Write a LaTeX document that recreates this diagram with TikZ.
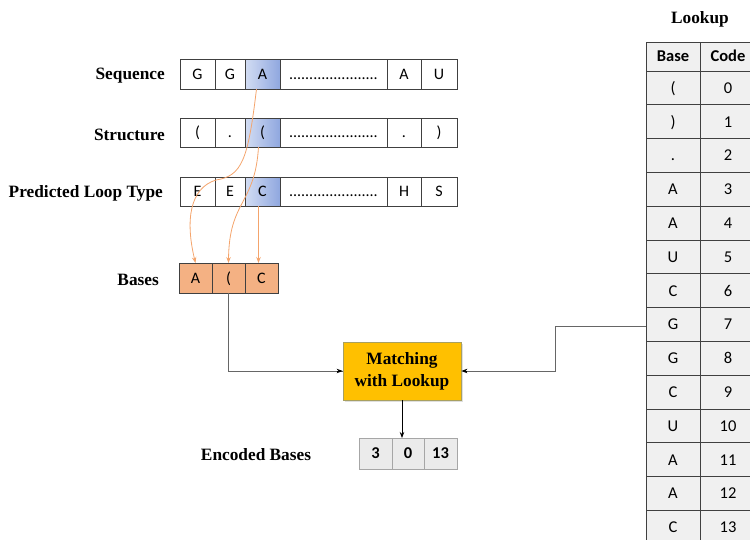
\documentclass[tikz,border=0pt]{standalone}
\usepackage{fontspec}
\setmainfont{Liberation Serif}
\newfontfamily\calfont{Carlito}
\usetikzlibrary{arrows.meta,shadows}
\definecolor{cellborder}{HTML}{404040}
\definecolor{blueL}{HTML}{D3DDF3}
\definecolor{blueR}{HTML}{8FA7DF}
\definecolor{orangefill}{HTML}{F4B183}
\definecolor{orangeline}{HTML}{F4A46C}
\definecolor{gold}{HTML}{FFC000}
\definecolor{goldborder}{HTML}{A8A060}
\definecolor{tablefill}{HTML}{F0F0F0}
\definecolor{encfill}{HTML}{EBEBEB}
\definecolor{encborder}{HTML}{A6A6A6}
\newcommand{\mkcell}[7]{%
  \node[#7, minimum width={(#3-#2)*1pt}, minimum height={(#5-#4)*1pt}] (#1) at ({(#2+#3)/2},{(#4+#5)/2}) {#6};}
\tikzset{
  cellbox/.style={draw=cellborder, line width=0.7pt, fill=white, inner sep=0pt, outer sep=0pt, font=\calfont\fontsize{16}{18}\selectfont, text height=10.3pt, text depth=0pt},
  hibox/.style={cellbox, left color=blueL, right color=blueR},
  basebox/.style={cellbox, fill=orangefill},
  encbox/.style={draw=encborder, line width=0.7pt, fill=encfill, inner sep=0pt, outer sep=0pt, font=\calfont\bfseries\fontsize{16.5}{18}\selectfont, text height=10.6pt, text depth=0pt},
  tabbox/.style={draw=cellborder, line width=0.8pt, fill=tablefill, inner sep=0pt, outer sep=0pt, font=\calfont\fontsize{16.5}{18}\selectfont, text height=10.6pt, text depth=0pt},
  lbl/.style={font=\bfseries\fontsize{17.3}{19}\selectfont, anchor=east, inner sep=0pt},
  orarrow/.style={draw=orangeline, line width=0.8pt, -{Stealth[length=6pt,width=4.5pt]}},
  blkarrow/.style={draw=black!70, line width=0.8pt, -{Stealth[length=6pt,width=4.5pt]}, black},
  plain/.style={draw=black!60, line width=0.8pt}
}
\begin{document}
\begin{tikzpicture}[x=1pt,y=-1pt]
\useasboundingbox (0,0) rectangle (750,539);
% row labels
\node[lbl] (lseq) at (165,75.5) {Sequence};
\node[lbl] (lstr) at (165,134.5) {Structure};
\node[lbl] (lloop) at (163,193.5) {Predicted Loop Type};
\node[lbl] (lbases) at (159,279.5) {Bases};
\node[font=\bfseries\fontsize{17.3}{19}\selectfont] (lenc) at (256,455) {Encoded Bases};
\node[font=\bfseries\fontsize{17.3}{19}\selectfont] (llook) at (700,19.5) {Lookup};
% sequence row
\mkcell{s1}{180}{215}{59}{89}{G}{cellbox}
\mkcell{s2}{215}{245}{59}{89}{G}{cellbox}
\mkcell{s3}{245}{280}{59}{89}{A}{hibox}
\mkcell{s4}{280}{387}{59}{89}{......................}{cellbox}
\mkcell{s5}{387}{421}{59}{89}{A}{cellbox}
\mkcell{s6}{421}{457}{59}{89}{U}{cellbox}
% structure row
\mkcell{t1}{180}{215}{118}{147}{(}{cellbox}
\mkcell{t2}{215}{245}{118}{147}{.}{cellbox}
\mkcell{t3}{245}{280}{118}{147}{(}{hibox}
\mkcell{t4}{280}{387}{118}{147}{......................}{cellbox}
\mkcell{t5}{387}{421}{118}{147}{.}{cellbox}
\mkcell{t6}{421}{457}{118}{147}{)}{cellbox}
% loop row
\mkcell{p1}{180}{215}{177}{206}{E}{cellbox}
\mkcell{p2}{215}{245}{177}{206}{E}{cellbox}
\mkcell{p3}{245}{280}{177}{206}{C}{hibox}
\mkcell{p4}{280}{387}{177}{206}{......................}{cellbox}
\mkcell{p5}{387}{421}{177}{206}{H}{cellbox}
\mkcell{p6}{421}{457}{177}{206}{S}{cellbox}
% bases
\mkcell{b1}{179}{212}{263}{293}{A}{basebox}
\mkcell{b2}{212}{245}{263}{293}{(}{basebox}
\mkcell{b3}{245}{278}{263}{293}{C}{basebox}
% orange connectors
\draw[orarrow] ([xshift=-6pt]s3.south) .. controls (248,160) and (242,176) .. (216,180) .. controls (190,188) and (185,220) .. (b1.north);
\draw[orarrow] ([xshift=-4pt]t3.south) .. controls (255,205) and (229,200) .. (b2.north);
\draw[orarrow] ([xshift=-4pt]p3.south) -- ([xshift=-4pt]p3.south |- b3.north);
% matching box
\node[draw=goldborder, line width=0.8pt, fill=gold, drop shadow={shadow xshift=2pt, shadow yshift=-2pt, fill=black!25}, minimum width=118pt, minimum height=58pt, align=center, font=\bfseries\fontsize{17.3}{22}\selectfont, inner sep=0pt] (match) at (402,371) {Matching\\with Lookup};
% encoded
\mkcell{e1}{359}{392}{438}{469}{3}{encbox}
\mkcell{e2}{392}{424}{438}{469}{0}{encbox}
\mkcell{e3}{424}{457}{438}{469}{13}{encbox}
% lookup table
\mkcell{h1}{646}{700}{42}{71}{\bfseries Base}{tabbox}
\mkcell{h2}{700}{756}{42}{71}{\bfseries Code}{tabbox}
\foreach \b/\c [count=\i from 0] in {{(}/0,{)}/1,{.}/2,A/3,A/4,U/5,C/6,G/7,G/8,C/9,U/10,A/11,A/12,C/13}{
  \pgfmathsetmacro{\ya}{71+\i*33.8}
  \pgfmathsetmacro{\yb}{71+(\i+1)*33.8}
  \mkcell{r\i a}{646}{700}{\ya}{\yb}{\b}{tabbox}
  \mkcell{r\i b}{700}{756}{\ya}{\yb}{\c}{tabbox}
}
% connectors
\draw[plain] (b2.south) |- (match.west);
\draw[blkarrow] (match.west) ++(-6pt,0) -- (match.west);
\coordinate (bend) at (555,326);
\draw[plain] (r7a.west |- bend) -- (bend) |- ([xshift=6pt]match.east);
\draw[blkarrow] ([xshift=6pt]match.east) -- (match.east);
\draw[blkarrow] (match.south) -- (match.south |- e2.north);
\end{tikzpicture}
\end{document}
